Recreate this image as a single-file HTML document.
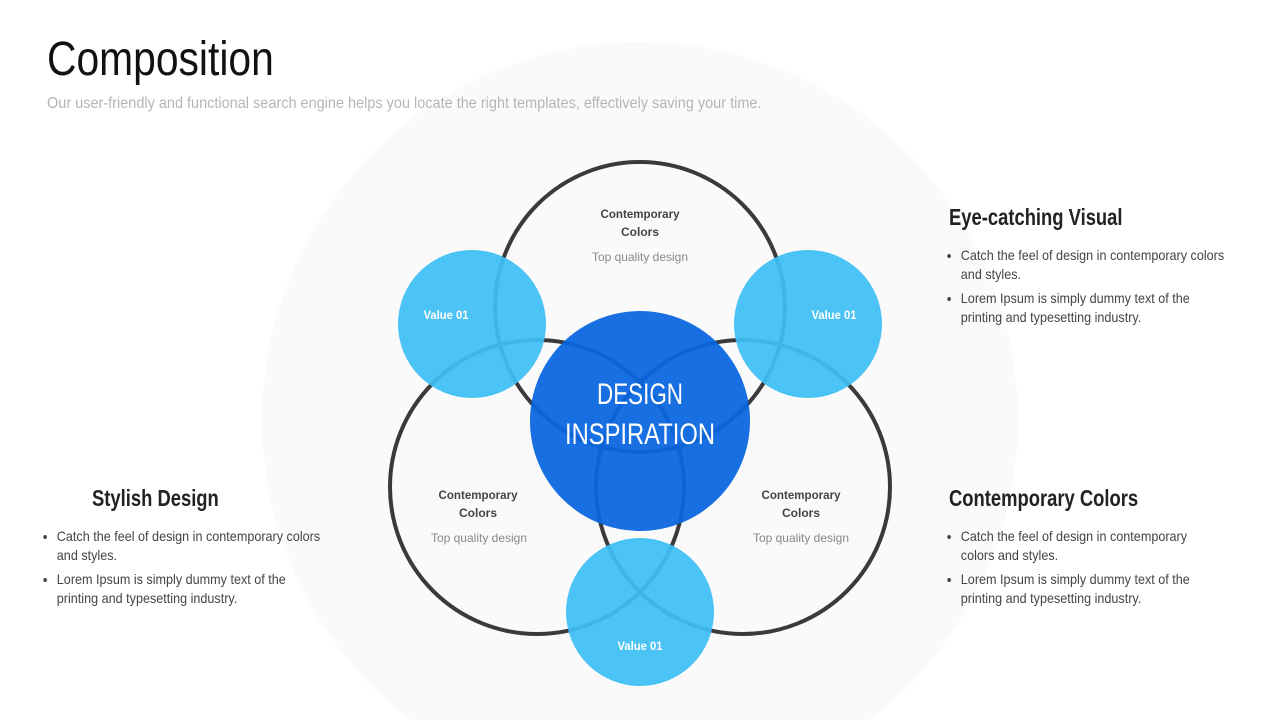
<!DOCTYPE html>
<html><head><meta charset="utf-8"><style>
html,body{margin:0;width:1280px;height:720px;overflow:hidden}
body{background:#fff;font-family:"Liberation Sans Narrow","Liberation Sans",sans-serif;position:relative}
.t{position:absolute;white-space:nowrap}
h1{position:absolute;left:47px;top:32px;margin:0;font-weight:normal;font-size:48px;color:#111;transform:scaleX(.85);transform-origin:left;letter-spacing:0}
.sub{left:47px;top:95px;font-size:16px;color:#b5b5b5;transform:scaleX(.905);transform-origin:left}
.h{font-size:23px;font-weight:bold;color:#222;transform:scaleX(.8);transform-origin:left}
ul{position:absolute;margin:0;padding:0 0 0 12px;font-size:14px;color:#444;line-height:19px;width:300px;transform:scaleX(.9);transform-origin:left}
li{margin-bottom:5px}
svg{position:absolute;left:0;top:0}
</style></head><body>
<svg width="1280" height="720">
<circle cx="640" cy="420" r="378" fill="#fafafa"/>
<g fill="none" stroke="#3a3a3a" stroke-width="4">
<circle cx="640" cy="307" r="145"/>
<circle cx="537" cy="487" r="147"/>
<circle cx="743" cy="487" r="147"/>
</g>
<circle cx="640" cy="421" r="110" fill="#0a66df" fill-opacity=".94"/>
<g fill="#3ebef4" fill-opacity=".93">
<circle cx="472" cy="324" r="74"/>
<circle cx="808" cy="324" r="74"/>
<circle cx="640" cy="612" r="74"/>
</g>
<g font-family="'Liberation Sans', sans-serif" text-anchor="middle">
<text x="640" y="404" font-size="30" fill="#fff" textLength="86" lengthAdjust="spacingAndGlyphs">DESIGN</text>
<text x="640" y="444" font-size="30" fill="#fff" textLength="150" lengthAdjust="spacingAndGlyphs">INSPIRATION</text>
<g font-size="12" font-weight="bold" fill="#fff">
<text x="446" y="319" textLength="45" lengthAdjust="spacingAndGlyphs">Value 01</text>
<text x="834" y="319" textLength="45" lengthAdjust="spacingAndGlyphs">Value 01</text>
<text x="640" y="650" textLength="45" lengthAdjust="spacingAndGlyphs">Value 01</text>
</g>
<g font-size="12" font-weight="bold" fill="#444">
<text x="640" y="218" textLength="79" lengthAdjust="spacingAndGlyphs">Contemporary</text><text x="640" y="236">Colors</text>
<text x="478" y="499" textLength="79" lengthAdjust="spacingAndGlyphs">Contemporary</text><text x="478" y="517">Colors</text>
<text x="801" y="499" textLength="79" lengthAdjust="spacingAndGlyphs">Contemporary</text><text x="801" y="517">Colors</text>
</g>
<g font-size="12" fill="#888">
<text x="640" y="261">Top quality design</text>
<text x="479" y="542">Top quality design</text>
<text x="801" y="542">Top quality design</text>
</g>
</g>
</svg>
<h1>Composition</h1>
<div class="t sub">Our user-friendly and functional search engine helps you locate the right templates, effectively saving your time.</div>
<div class="t h" style="left:949px;top:204px">Eye-catching Visual</div>
<ul style="left:950px;top:246px"><li>Catch the feel of design in contemporary colors and styles.</li><li>Lorem Ipsum is simply dummy text of the printing and typesetting industry.</li></ul>
<div class="t h" style="left:949px;top:485px">Contemporary Colors</div>
<ul style="left:950px;top:527px;width:265px"><li>Catch the feel of design in contemporary colors and styles.</li><li>Lorem Ipsum is simply dummy text of the printing and typesetting industry.</li></ul>
<div class="t h" style="left:92px;top:485px">Stylish Design</div>
<ul style="left:46px;top:527px"><li>Catch the feel of design in contemporary colors and styles.</li><li>Lorem Ipsum is simply dummy text of the printing and typesetting industry.</li></ul>
</body></html>
